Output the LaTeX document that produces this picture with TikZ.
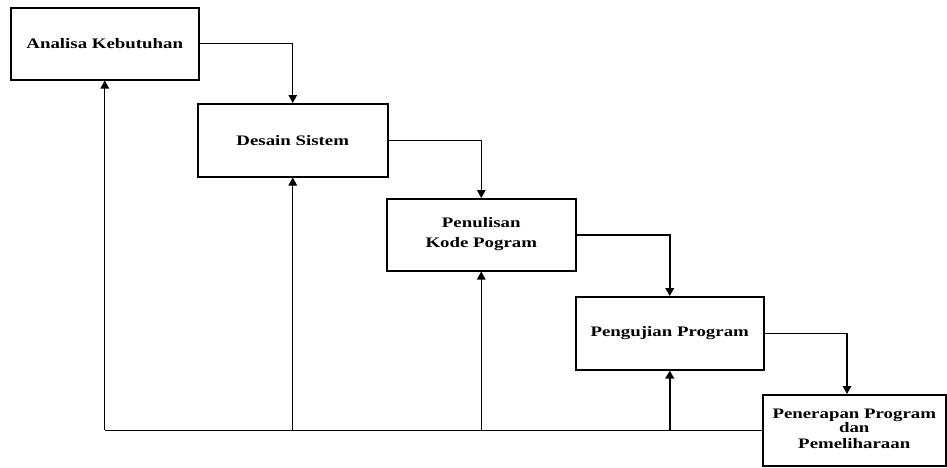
\documentclass[tikz,border=0pt]{standalone}
\usepackage{fontspec}
\setmainfont{Liberation Serif}
\usetikzlibrary{arrows.meta}
\newcommand{\wtxt}[1]{\scalebox{1.3}[1]{#1}}
\begin{document}
\begin{tikzpicture}[x=1pt,y=-1pt,
  phase/.style={draw, line width=1.5pt, anchor=north west, inner sep=0pt,
    font=\fontsize{14.5}{16}\selectfont\bfseries},
  flow/.style={line width=1.3pt, -{Triangle[length=8pt,width=8.5pt]}},
  thickflow/.style={flow, line width=2.2pt},
  back/.style={line width=1.3pt}]
\useasboundingbox (0,0) rectangle (947,467);
\fill[white] (0,0) rectangle (947,467);

% waterfall phases
\node[phase, minimum width=188pt, minimum height=72pt] (b1) at (10,7)
  {\wtxt{Analisa Kebutuhan}};
\node[phase, minimum width=190pt, minimum height=73pt] (b2) at (197,103)
  {\wtxt{Desain Sistem}};
\node[phase, minimum width=189pt, minimum height=72pt] (b3) at (386,198)
  {\wtxt{\begin{tabular}{@{}c@{}}Penulisan\\[4pt]Kode Pogram\end{tabular}}};
\node[phase, minimum width=188pt, minimum height=73pt] (b4) at (575,296)
  {\wtxt{Pengujian Program}};
\node[phase, minimum width=183pt, minimum height=71pt] (b5) at (762,394)
  {\wtxt{\begin{tabular}{@{}c@{}}Penerapan Program\\[-2pt]dan\\[0pt]Pemeliharaan\end{tabular}}};

% forward flow
\coordinate (b5in) at ([xshift=85pt]b5.north west);
\draw[flow] (b1.east) -| (b2.north);
\draw[flow] (b2.east) -| (b3.north);
\draw[thickflow] (b3.east) -| (b4.north);
\draw[flow] (b4.east) -| (b5in);

% feedback to earlier phases
\coordinate (fb) at (b1.south |- b5.west);
\draw[back] (b5.west) -- (fb);
\draw[flow] (fb) -- (b1.south);
\draw[flow] (b2.south |- b5.west) -- (b2.south);
\draw[flow] (b3.south |- b5.west) -- (b3.south);
\draw[thickflow] (b4.south |- b5.west) -- (b4.south);
\end{tikzpicture}
\end{document}
